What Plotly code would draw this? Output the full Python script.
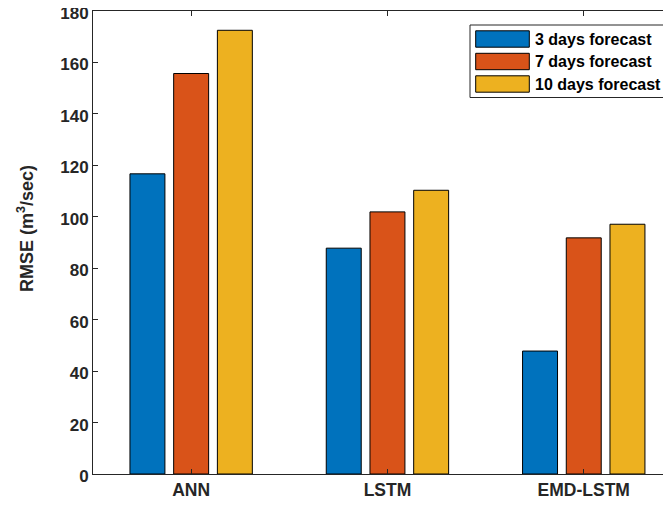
import plotly.graph_objects as go

categories = ["ANN", "LSTM", "EMD-LSTM"]
series_names = ["3 days forecast", "7 days forecast", "10 days forecast"]
rmse_3day = [116.7, 87.8, 47.8]
rmse_7day = [155.7, 101.9, 91.8]
rmse_10day = [172.5, 110.3, 97.1]
y_ticks = [0, 20, 40, 60, 80, 100, 120, 140, 160, 180]

colors = ["#0072BD", "#D95319", "#EDB120"]
values = [rmse_3day, rmse_7day, rmse_10day]
FONT = "Liberation Sans"
TXT = "#262626"

# page body has an 8px default margin; compensate so the picture aligns
OFF = 8
W, H = 671 - OFF, 506 - OFF
plot_left, plot_top, plot_bottom = 93, 11, 474   # page pixels
ml = plot_left - OFF
mt = plot_top - OFF
mb = 506 - plot_bottom
mr = 0
pw = W - ml - mr
ph = H - mt - mb

fig = go.Figure()
for name, vals, col in zip(series_names, values, colors):
    fig.add_trace(go.Bar(
        x=categories, y=vals, name=name,
        marker=dict(color=col, line=dict(color="#000000", width=1)),
        showlegend=False,
    ))

def px_x(px):  # page pixel -> paper
    return (px - plot_left) / pw

def px_y(py):
    return (plot_bottom - py) / ph

shapes = [dict(type="rect", xref="paper", yref="paper",
               x0=px_x(470), x1=px_x(667.5), y0=px_y(97.5), y1=px_y(25),
               line=dict(color="#262626", width=1), fillcolor="white", layer="above")]
annotations = []
row_centers = [39, 61.5, 84]
for name, col, cy in zip(series_names, colors, row_centers):
    shapes.append(dict(type="rect", xref="paper", yref="paper",
                       x0=px_x(475.7), x1=px_x(529.3),
                       y0=px_y(cy + 8.2), y1=px_y(cy - 8.2),
                       line=dict(color="#000000", width=1), fillcolor=col, layer="above"))
    annotations.append(dict(text=name, xref="paper", yref="paper",
                            x=px_x(532.5), y=px_y(cy), xanchor="left", yanchor="middle",
                            showarrow=False, font=dict(family=FONT, size=16, color="#000000", weight="bold")))

annotations.append(dict(text="RMSE (m<sup>3</sup>/sec)", xref="paper", yref="paper",
                        x=px_x(25), y=px_y(229), xanchor="center", yanchor="middle",
                        textangle=-90, showarrow=False,
                        font=dict(family=FONT, size=18, color=TXT, weight="bold")))

fig.update_layout(
    width=W, height=H,
    margin=dict(l=ml, r=mr, t=mt, b=mb, autoexpand=False),
    plot_bgcolor="white", paper_bgcolor="white",
    barmode="group", bargap=0.332, bargroupgap=0.2,
    font=dict(family=FONT, color=TXT),
    shapes=shapes, annotations=annotations,
)
fig.update_xaxes(
    range=[-0.5, -0.5 + (671 - plot_left) / 196.3],
    showline=True, linecolor="#262626", linewidth=1, mirror="allticks",
    ticks="inside", ticklen=5, tickcolor="#262626",
    tickfont=dict(family=FONT, size=17.5, color=TXT, weight="bold"),
    ticklabeloverflow="allow",
    showgrid=False, zeroline=False, automargin=False,
)
fig.update_yaxes(
    range=[0, 180], tickvals=y_ticks, ticktext=[str(v) for v in y_ticks],
    showline=True, linecolor="#262626", linewidth=1, mirror=False,
    ticks="inside", ticklen=5, tickcolor="#262626",
    tickfont=dict(family=FONT, size=17, color=TXT, weight="bold"),
    ticklabeloverflow="allow", ticklabelshift=2,
    showgrid=False, zeroline=False, automargin=False,
)
fig.write_html("out.html")
